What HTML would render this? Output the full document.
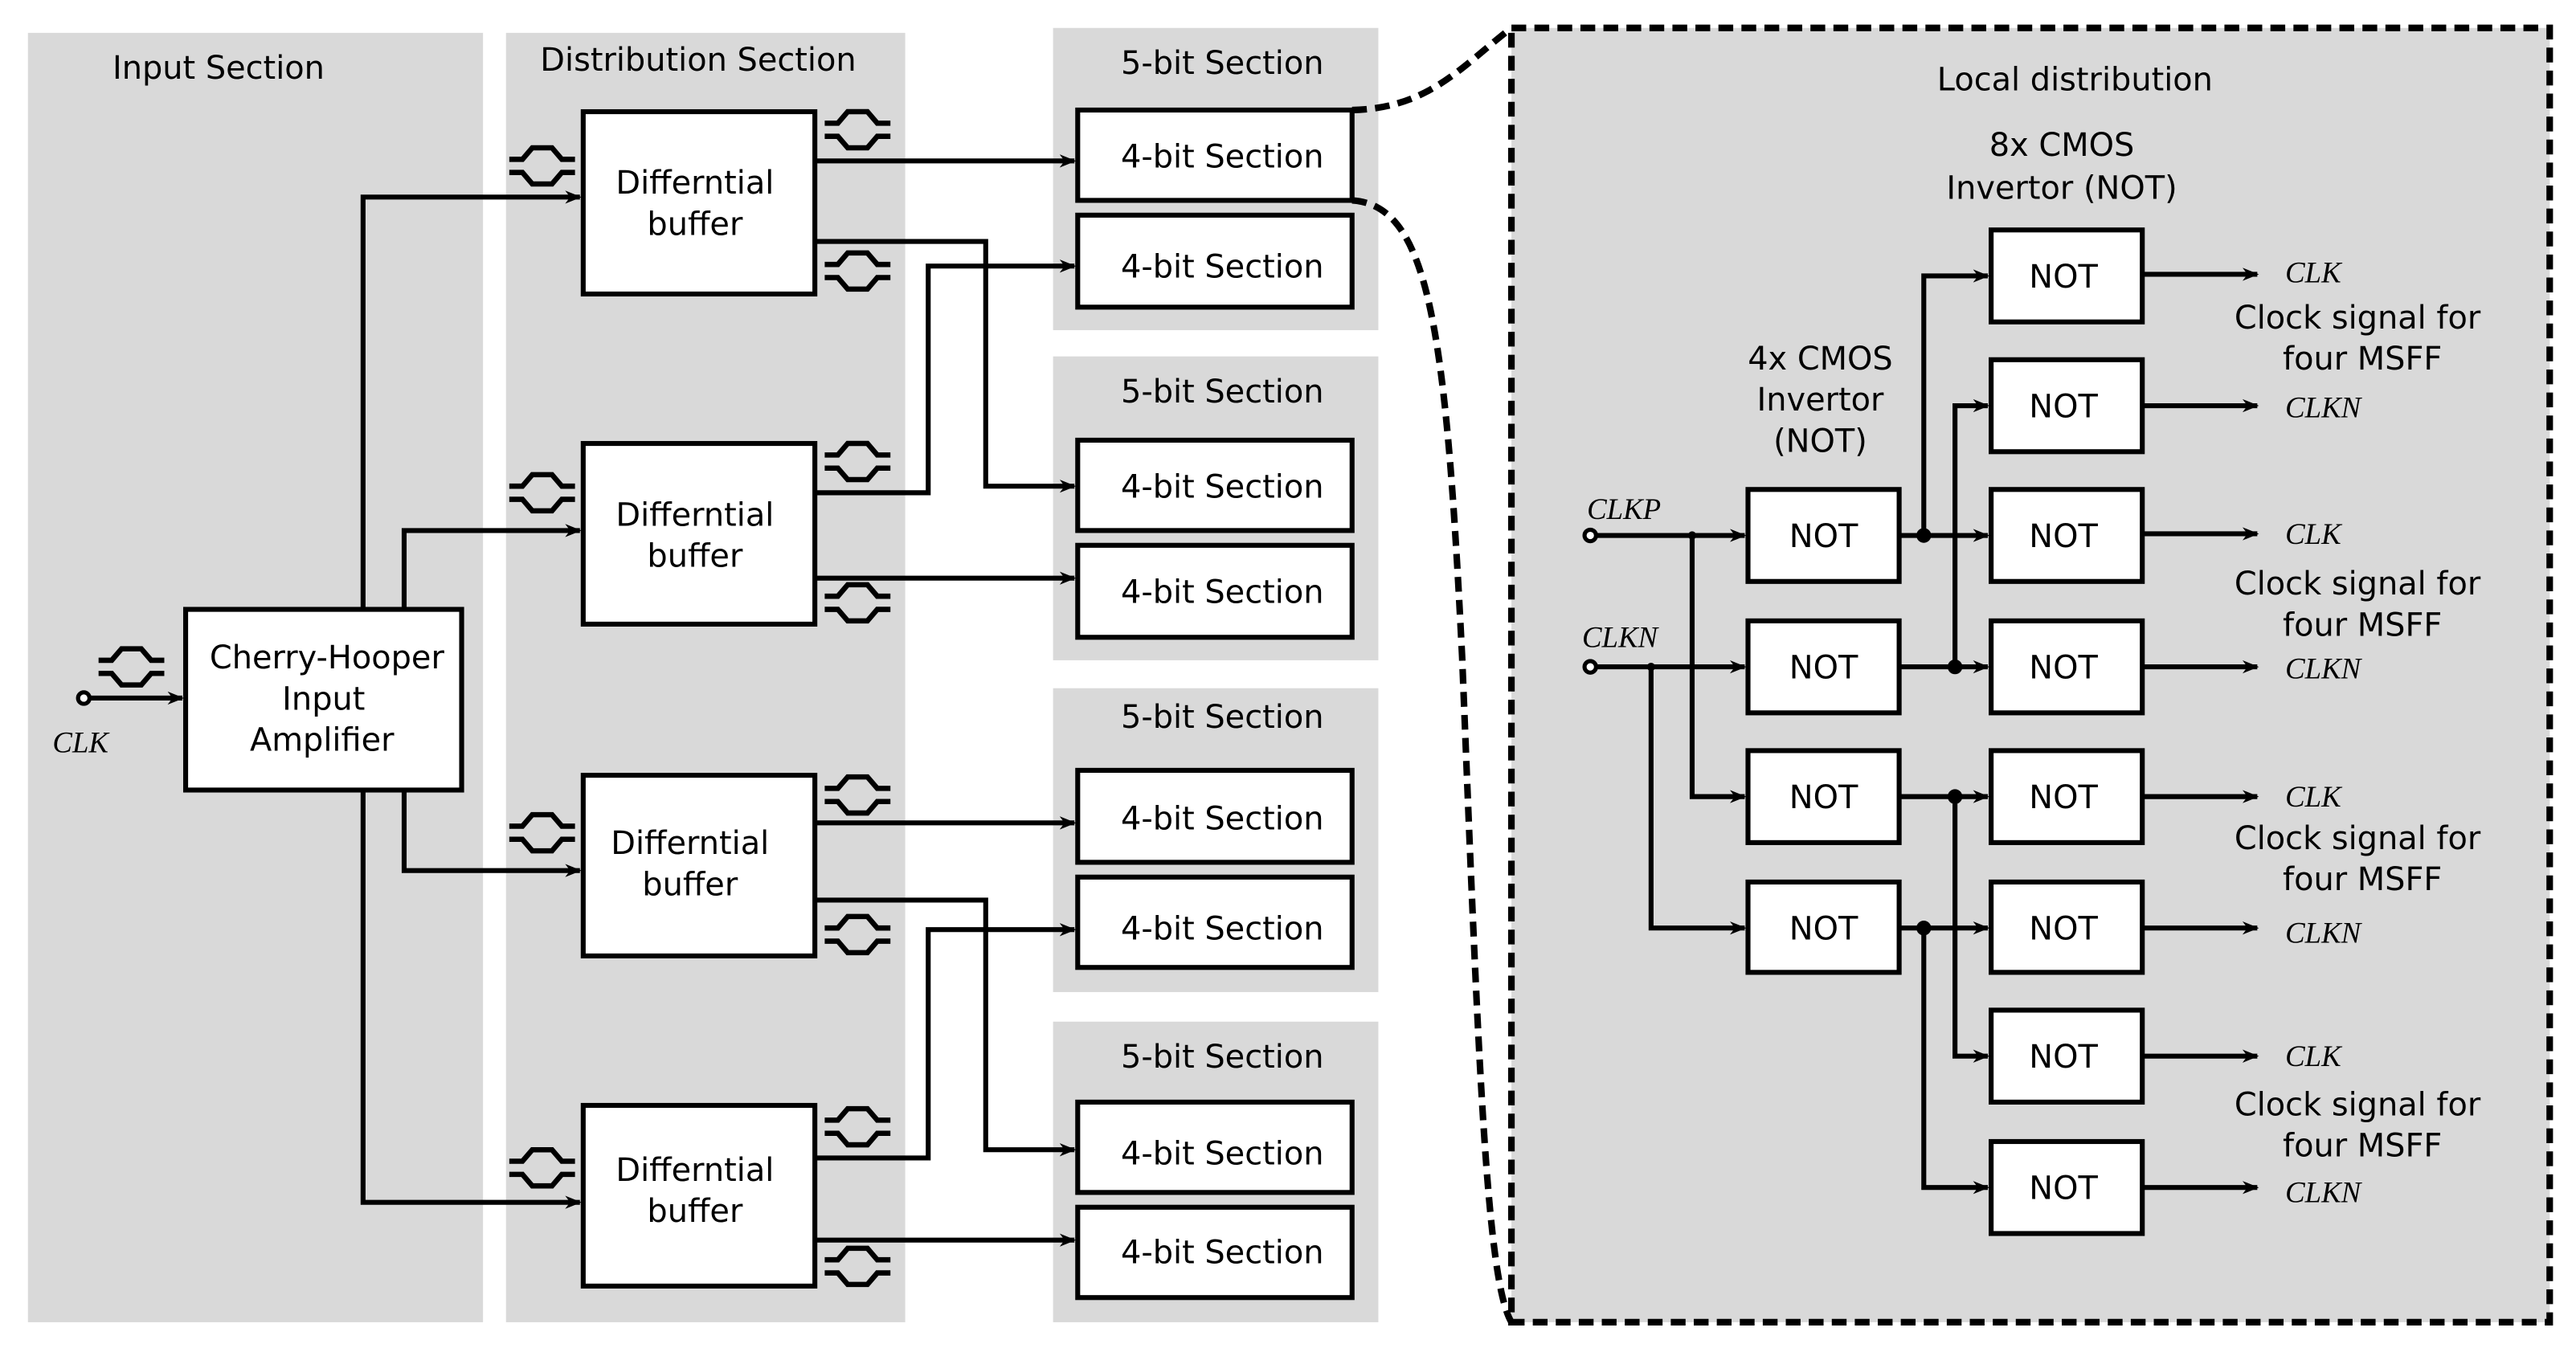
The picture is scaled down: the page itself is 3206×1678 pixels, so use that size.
<!DOCTYPE html>
<html><head><meta charset="utf-8"><style>
html,body{margin:0;padding:0;background:#fff}
svg{display:block}
.t{font-family:"DejaVu Sans","Liberation Sans",sans-serif;font-size:19.5px;fill:#000;text-anchor:middle}
.i{font-family:"Liberation Serif",serif;font-style:italic;font-size:18px;fill:#000}
.w{fill:none;stroke:#000;stroke-width:3}
.b{fill:#fff;stroke:#000;stroke-width:3}
</style></head><body>
<svg width="3206" height="1678" viewBox="0 0 1568 820.7" preserveAspectRatio="none" xmlns="http://www.w3.org/2000/svg">
<defs>
<marker id="a" markerWidth="10" markerHeight="8" refX="9" refY="4" orient="auto" markerUnits="userSpaceOnUse"><path d="M0,0 L10,4 L0,8 L3,4z" fill="#000"/></marker>
<g id="d"><path d="M-20,-4 H-12 L-6,-11 H6 L12,-4 H20 M-20,4 H-12 L-6,11 H6 L12,4 H20" fill="none" stroke="#000" stroke-width="3.2"/></g>
</defs>
<!-- backgrounds -->
<rect x="17" y="20" width="277" height="785" fill="#d9d9d9"/>
<rect x="308" y="20" width="243" height="785" fill="#d9d9d9"/>
<rect x="641" y="17" width="198" height="184" fill="#d9d9d9"/>
<rect x="641" y="217" width="198" height="185" fill="#d9d9d9"/>
<rect x="641" y="419" width="198" height="185" fill="#d9d9d9"/>
<rect x="641" y="622" width="198" height="183" fill="#d9d9d9"/>
<rect x="920" y="17" width="632" height="788" fill="#d9d9d9" stroke="#000" stroke-width="4" stroke-dasharray="9,5"/>
<path d="M823,67 C870,66 890,40 920,17" fill="none" stroke="#000" stroke-width="4" stroke-dasharray="9,5"/>
<path d="M823,122 C870,125 880,200 890,400 C900,650 905,780 920,805" fill="none" stroke="#000" stroke-width="4" stroke-dasharray="9,5"/>
<text class="t" x="133" y="48">Input Section</text>
<text class="t" x="425" y="43">Distribution Section</text>
<text class="t" x="744" y="45">5-bit Section</text>
<text class="t" x="744" y="245">5-bit Section</text>
<text class="t" x="744" y="443">5-bit Section</text>
<text class="t" x="744" y="650">5-bit Section</text>
<!-- left wiring -->
<path class="w" d="M221,371 V120 H353" marker-end="url(#a)"/>
<path class="w" d="M246,371 V323 H353" marker-end="url(#a)"/>
<path class="w" d="M246,481 V530 H353" marker-end="url(#a)"/>
<path class="w" d="M221,481 V732 H353" marker-end="url(#a)"/>
<path class="w" d="M54,425 H111" marker-end="url(#a)"/>
<circle cx="51" cy="425" r="3.5" fill="#fff" stroke="#000" stroke-width="2.5"/>
<use href="#d" x="80" y="406"/>
<text class="i" x="32" y="458">CLK</text>
<rect class="b" x="113" y="371" width="168" height="110"/>
<text class="t" x="199" y="407">Cherry-Hooper</text>
<text class="t" x="197" y="432">Input</text>
<text class="t" x="196" y="457">Amplifier</text>
<!-- dist wiring -->
<path class="w" d="M496,98 H654" marker-end="url(#a)"/>
<path class="w" d="M496,147 H600 V296 H654" marker-end="url(#a)"/>
<path class="w" d="M496,300 H565 V162 H654" marker-end="url(#a)"/>
<path class="w" d="M496,352 H654" marker-end="url(#a)"/>
<path class="w" d="M496,501 H654" marker-end="url(#a)"/>
<path class="w" d="M496,548 H600 V700 H654" marker-end="url(#a)"/>
<path class="w" d="M496,705 H565 V566 H654" marker-end="url(#a)"/>
<path class="w" d="M496,755 H654" marker-end="url(#a)"/>
<g>
<rect class="b" x="355" y="68" width="141" height="111"/><text class="t" x="423" y="118">Differntial</text><text class="t" x="423" y="143">buffer</text>
<rect class="b" x="355" y="270" width="141" height="110"/><text class="t" x="423" y="320">Differntial</text><text class="t" x="423" y="345">buffer</text>
<rect class="b" x="355" y="472" width="141" height="110"/><text class="t" x="420" y="520">Differntial</text><text class="t" x="420" y="545">buffer</text>
<rect class="b" x="355" y="673" width="141" height="110"/><text class="t" x="423" y="719">Differntial</text><text class="t" x="423" y="744">buffer</text>
</g>
<use href="#d" x="330" y="101"/><use href="#d" x="330" y="300"/><use href="#d" x="330" y="507"/><use href="#d" x="330" y="711"/>
<use href="#d" x="522" y="79"/><use href="#d" x="522" y="165"/><use href="#d" x="522" y="281"/><use href="#d" x="522" y="367"/>
<use href="#d" x="522" y="484"/><use href="#d" x="522" y="569"/><use href="#d" x="522" y="686"/><use href="#d" x="522" y="771"/>
<g>
<rect class="b" x="656" y="67" width="167" height="55"/><text class="t" x="744" y="102">4-bit Section</text>
<rect class="b" x="656" y="131" width="167" height="56"/><text class="t" x="744" y="169">4-bit Section</text>
<rect class="b" x="656" y="268" width="167" height="55"/><text class="t" x="744" y="303">4-bit Section</text>
<rect class="b" x="656" y="332" width="167" height="56"/><text class="t" x="744" y="367">4-bit Section</text>
<rect class="b" x="656" y="469" width="167" height="56"/><text class="t" x="744" y="505">4-bit Section</text>
<rect class="b" x="656" y="534" width="167" height="55"/><text class="t" x="744" y="572">4-bit Section</text>
<rect class="b" x="656" y="671" width="167" height="55"/><text class="t" x="744" y="709">4-bit Section</text>
<rect class="b" x="656" y="735" width="167" height="55"/><text class="t" x="744" y="769">4-bit Section</text>
</g>
<!-- local distribution -->
<text class="t" x="1263" y="55">Local distribution</text>
<text class="t" x="1255" y="95">8x CMOS</text>
<text class="t" x="1255" y="121">Invertor (NOT)</text>
<text class="t" x="1108" y="225">4x CMOS</text>
<text class="t" x="1108" y="250">Invertor</text>
<text class="t" x="1108" y="275">(NOT)</text>
<text class="i" x="966" y="316">CLKP</text>
<text class="i" x="963" y="394">CLKN</text>
<path class="w" d="M971,326 H1062" marker-end="url(#a)"/>
<path class="w" d="M971,406 H1062" marker-end="url(#a)"/>
<path class="w" d="M1030,326 V485 H1062" marker-end="url(#a)"/>
<path class="w" d="M1005,406 V565 H1062" marker-end="url(#a)"/>
<circle cx="968" cy="326" r="3.5" fill="#fff" stroke="#000" stroke-width="2.5"/>
<circle cx="968" cy="406" r="3.5" fill="#fff" stroke="#000" stroke-width="2.5"/>
<circle cx="1030" cy="326" r="2.5"/><circle cx="1005" cy="406" r="2.5"/>
<path class="w" d="M1156,326 H1210" marker-end="url(#a)"/>
<path class="w" d="M1171,326 V168 H1210" marker-end="url(#a)"/>
<path class="w" d="M1156,406 H1210" marker-end="url(#a)"/>
<path class="w" d="M1190,406 V247 H1210" marker-end="url(#a)"/>
<path class="w" d="M1156,485 H1210" marker-end="url(#a)"/>
<path class="w" d="M1190,485 V643 H1210" marker-end="url(#a)"/>
<path class="w" d="M1156,565 H1210" marker-end="url(#a)"/>
<path class="w" d="M1171,565 V723 H1210" marker-end="url(#a)"/>
<circle cx="1171" cy="326" r="4.5"/><circle cx="1190" cy="406" r="4.5"/><circle cx="1190" cy="485" r="4.5"/><circle cx="1171" cy="565" r="4.5"/>
<g>
<rect class="b" x="1064" y="298" width="92" height="56"/><text class="t" x="1110" y="333">NOT</text>
<rect class="b" x="1064" y="378" width="92" height="56"/><text class="t" x="1110" y="413">NOT</text>
<rect class="b" x="1064" y="457" width="92" height="56"/><text class="t" x="1110" y="492">NOT</text>
<rect class="b" x="1064" y="537" width="92" height="55"/><text class="t" x="1110" y="572">NOT</text>
</g>
<g>
<rect class="b" x="1212" y="140" width="92" height="56"/><text class="t" x="1256" y="175">NOT</text>
<rect class="b" x="1212" y="219" width="92" height="56"/><text class="t" x="1256" y="254">NOT</text>
<rect class="b" x="1212" y="298" width="92" height="56"/><text class="t" x="1256" y="333">NOT</text>
<rect class="b" x="1212" y="378" width="92" height="56"/><text class="t" x="1256" y="413">NOT</text>
<rect class="b" x="1212" y="457" width="92" height="56"/><text class="t" x="1256" y="492">NOT</text>
<rect class="b" x="1212" y="537" width="92" height="55"/><text class="t" x="1256" y="572">NOT</text>
<rect class="b" x="1212" y="615" width="92" height="56"/><text class="t" x="1256" y="650">NOT</text>
<rect class="b" x="1212" y="695" width="92" height="56"/><text class="t" x="1256" y="730">NOT</text>
</g>
<path class="w" d="M1304,167 H1374" marker-end="url(#a)"/>
<path class="w" d="M1304,247 H1374" marker-end="url(#a)"/>
<path class="w" d="M1304,325 H1374" marker-end="url(#a)"/>
<path class="w" d="M1304,406 H1374" marker-end="url(#a)"/>
<path class="w" d="M1304,485 H1374" marker-end="url(#a)"/>
<path class="w" d="M1304,565 H1374" marker-end="url(#a)"/>
<path class="w" d="M1304,643 H1374" marker-end="url(#a)"/>
<path class="w" d="M1304,723 H1374" marker-end="url(#a)"/>
<text class="i" x="1391" y="172">CLK</text>
<text class="i" x="1391" y="254">CLKN</text>
<text class="i" x="1391" y="331">CLK</text>
<text class="i" x="1391" y="413">CLKN</text>
<text class="i" x="1391" y="491">CLK</text>
<text class="i" x="1391" y="574">CLKN</text>
<text class="i" x="1391" y="649">CLK</text>
<text class="i" x="1391" y="732">CLKN</text>
<text class="t" x="1435" y="200">Clock signal for</text><text class="t" x="1438" y="225">four MSFF</text>
<text class="t" x="1435" y="362">Clock signal for</text><text class="t" x="1438" y="387">four MSFF</text>
<text class="t" x="1435" y="517">Clock signal for</text><text class="t" x="1438" y="542">four MSFF</text>
<text class="t" x="1435" y="679">Clock signal for</text><text class="t" x="1438" y="704">four MSFF</text>
</svg>
</body></html>
